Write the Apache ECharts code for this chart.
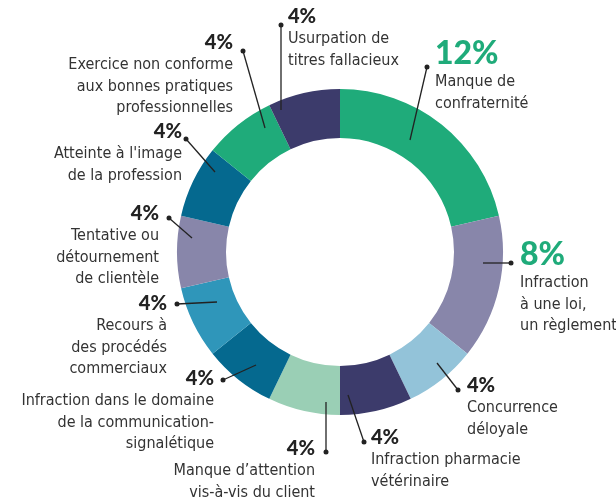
<!DOCTYPE html>
<html>
<head>
<meta charset="utf-8">
<script src="https://cdn.jsdelivr.net/npm/echarts@6/dist/echarts.min.js"></script>
<style>
html,body{margin:0;padding:0;background:#fff}
#chart{width:616px;height:499px}
</style>
</head>
<body>
<div id="chart"></div>
<script>
// clockwise from 12 o'clock
const categories = [
  'Manque de\nconfraternité',
  'Infraction\nà une loi,\nun règlement',
  'Concurrence\ndéloyale',
  'Infraction pharmacie\nvétérinaire',
  'Manque d’attention\nvis-à-vis du client',
  'Infraction dans le domaine\nde la communication-\nsignalétique',
  'Recours à\ndes procédés\ncommerciaux',
  'Tentative ou\ndétournement\nde clientèle',
  "Atteinte à l'image\nde la profession",
  'Exercice non conforme\naux bonnes pratiques\nprofessionnelles',
  'Usurpation de\ntitres fallacieux'
]
const shares = [12, 8, 4, 4, 4, 4, 4, 4, 4, 4, 4]
const shareLabels = ['12%', '8%', '4%', '4%', '4%', '4%', '4%', '4%', '4%', '4%', '4%']

const colors = ['#1fab7a', '#8886aa', '#93c3d9', '#3c3b6b', '#9acfb5', '#05698f',
  '#2f96ba', '#8886aa', '#05698f', '#1fab7a', '#3c3b6b']

// annotation layout (text block anchor, alignment, leader line start / end dot)
const textPos = [[435, 36], [520, 237], [467, 374], [371, 426], [315, 437], [214, 367],
  [167, 292], [159, 202], [182, 120], [233, 31], [288, 5]]
const textAlign = ['left', 'left', 'left', 'left', 'right', 'right', 'right', 'right', 'right', 'right', 'left']
const lineStart = [[410, 140], [483, 263], [437, 363], [348, 395], [326, 402], [256, 365],
  [217, 302], [192, 238], [215, 172], [265, 128], [281, 110]]
const lineEnd = [[427, 67], [511, 263], [458, 390], [364, 442], [326, 452], [223, 380],
  [177, 304], [169, 218], [186, 139], [243, 51], [281, 25]]

const pieData = categories.map((c, i) => ({ name: c, value: shares[i], itemStyle: { color: colors[i] } }))

let myChart = echarts.init(document.getElementById('chart'))
let option = {
  animation: false,
  series: [
    {
      type: 'pie',
      z: 2,
      center: [340, 252],
      radius: [114, 163],
      startAngle: 90,
      clockwise: true,
      silent: true,
      avoidLabelOverlap: false,
      data: pieData,
      labelLine: { show: false },
      label: {
        show: true,
        position: 'inside',
        formatter: p => '{' + (p.dataIndex < 2 ? 'big' : 'pct') + '|' + shareLabels[p.dataIndex] + '}\n{txt|' + categories[p.dataIndex] + '}',
        rich: {
          big: { fontFamily: 'Lato', fontWeight: 900, fontSize: 32, lineHeight: 35, color: '#1fab7a' },
          pct: { fontFamily: 'Lato', fontWeight: 900, fontSize: 20, lineHeight: 23, color: '#222' },
          txt: { fontFamily: '"DejaVu Sans Condensed", "Liberation Sans Narrow", Roboto', fontSize: 16, lineHeight: 21.7, color: '#333' }
        }
      },
      labelLayout: p => ({
        x: textPos[p.dataIndex][0],
        y: textPos[p.dataIndex][1],
        align: textAlign[p.dataIndex],
        verticalAlign: 'top'
      })
    },
    {
      // leader lines and their end dots
      type: 'pie',
      z: 5,
      center: [340, 252],
      radius: [0, 140],
      startAngle: 90,
      clockwise: true,
      silent: true,
      avoidLabelOverlap: false,
      data: categories.map((c, i) => ({ name: c, value: shares[i] })),
      itemStyle: { color: 'rgba(0,0,0,0)' },
      label: {
        show: true,
        formatter: '{d|}',
        rich: { d: { width: 5, height: 5, borderRadius: 2.5, backgroundColor: '#222' } }
      },
      labelLine: { show: true, lineStyle: { color: '#222', width: 1.3 } },
      labelLayout: p => ({
        x: lineEnd[p.dataIndex][0],
        y: lineEnd[p.dataIndex][1],
        align: 'center',
        verticalAlign: 'middle',
        labelLinePoints: [lineStart[p.dataIndex], lineEnd[p.dataIndex]]
      })
    }
  ]
}
myChart.setOption(option, true)
</script>
</body>
</html>
